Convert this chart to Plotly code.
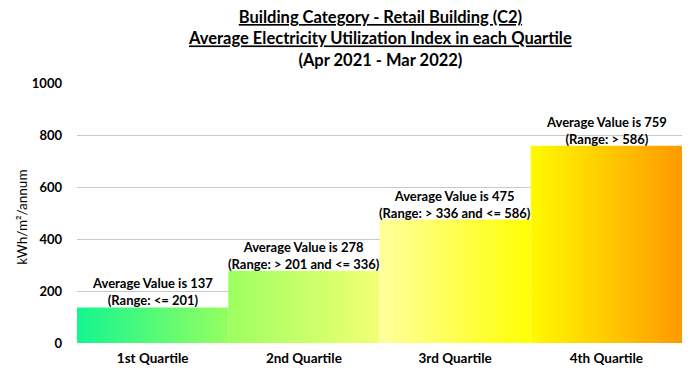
import plotly.graph_objects as go

categories = ["1st Quartile", "2nd Quartile", "3rd Quartile", "4th Quartile"]
avg_values = [137, 278, 475, 759]
range_texts = ["(Range: <= 201)", "(Range: > 201 and <= 336)",
               "(Range: > 336 and <= 586)", "(Range: > 586)"]
grad_start = ["#14F590", "#9CFF5F", "#FFFF9E", "#FFFA00"]
grad_end = ["#95FF60", "#F2FF74", "#FFFF05", "#FF9A00"]
y_ticks = [0, 200, 400, 600, 800, 1000]
title_lines = ["Building Category - Retail Building (C2)",
               "Average Electricity Utilization Index in each Quartile",
               "(Apr 2021 - Mar 2022)"]
y_title = "kWh/m²/annum"

FONT = "Lato"

fig = go.Figure()
for i, (cat, v) in enumerate(zip(categories, avg_values)):
    fig.add_trace(go.Scatter(
        x=[i - 0.5, i + 0.5], y=[v, v], mode="lines",
        line=dict(width=0, color=grad_end[i]), fill="tozeroy",
        fillgradient=dict(type="horizontal",
                          colorscale=[[0, grad_start[i]], [1, grad_end[i]]]),
        showlegend=False, hoverinfo="skip", name=cat))
    fig.add_annotation(
        x=i, y=v, yanchor="bottom", xanchor="center", showarrow=False,
        text=f"<b>Average Value is {v}<br>{range_texts[i]}</b>",
        font=dict(family=FONT, size=13, color="black"), yshift=-3)

fig.add_annotation(
    xref="paper", yref="paper", x=0.5, y=1.173, xanchor="center", yanchor="middle",
    showarrow=False,
    text=(f"<b><u>{title_lines[0]}</u><br><u>{title_lines[1]}</u><br>{title_lines[2]}</b>"),
    font=dict(family=FONT, size=16.5, color="black"))

fig.add_annotation(
    xref="paper", yref="paper", x=-0.091, y=0.485, xanchor="center", yanchor="middle",
    showarrow=False, textangle=-90, text=y_title,
    font=dict(family=FONT, size=13.5, color="black"))

# page body has an 8px margin, so the figure is sized to fit the window
fig.update_layout(
    width=682, height=369,
    margin=dict(l=69, r=8, t=75, b=34),
    paper_bgcolor="white", plot_bgcolor="white",
    xaxis=dict(range=[-0.5, 3.5], tickvals=list(range(len(categories))),
               ticktext=[f"<b>{c}</b>" for c in categories],
               showgrid=False, zeroline=False, showline=False, ticks="",
               automargin=False, ticklabelstandoff=5,
               tickfont=dict(family=FONT, size=13.5, color="black")),
    yaxis=dict(range=[0, 1000], tickvals=y_ticks,
               ticktext=[f"<b>{t}</b>" for t in y_ticks],
               showgrid=True, gridcolor="#C8C8C8", gridwidth=1,
               zeroline=False, showline=False, ticks="",
               automargin=False, ticklabelstandoff=14,
               tickfont=dict(family=FONT, size=13, color="black")),
)

fig.write_html("out.html")
